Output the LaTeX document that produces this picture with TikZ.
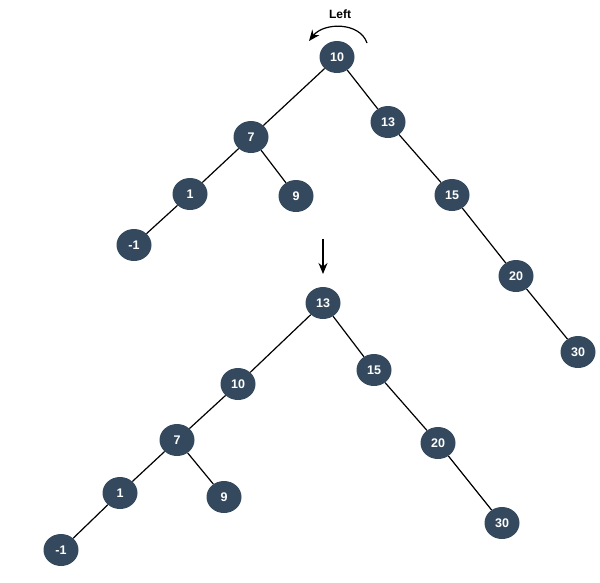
\documentclass[tikz,border=0pt]{standalone}
\usepackage{fontspec}
\setmainfont{Liberation Sans}
\usetikzlibrary{shapes.geometric,arrows.meta}
\definecolor{cc}{RGB}{52, 73, 94}

\begin{document}
\begin{tikzpicture}[x=1pt,y=1pt,
  vertex/.style={ellipse, minimum width=35pt, minimum height=32pt, inner sep=0pt, fill=cc, text=white, font=\fontsize{12.5}{12.5}\selectfont\bfseries},
  edge/.style={line width=1.2pt, color=black},
  turn/.style={line width=1.2pt, color=black, -{Stealth[length=11pt,width=9pt]}}]
\useasboundingbox (0,0) rectangle (600,-582);
% rotation mark
\node (lbl) [font=\fontsize{12}{12}\selectfont\bfseries] at (340.0pt, -14.0pt) {Left};
\coordinate (a1) at (367.0pt, -43.0pt);
\coordinate (a2) at (309.0pt, -41.0pt);
\coordinate (d1) at (323.0pt, -239.0pt);
\coordinate (d2) at (323.0pt, -274.0pt);
% tree before
\node (1) [vertex] at (337.0pt, -57.0pt)  {10};
\node (2) [vertex] at (251.0pt, -137.0pt)  {7};
\node (3) [vertex] at (388.0pt, -122.0pt)  {13};
\node (4) [vertex] at (190.0pt, -194.0pt)  {1};
\node (5) [vertex] at (296.0pt, -196.0pt)  {9};
\node (6) [vertex] at (452.0pt, -195.0pt)  {15};
\node (7) [vertex] at (134.0pt, -245.0pt)  {-1};
\node (8) [vertex] at (516.0pt, -276.0pt)  {20};
\node (9) [vertex] at (578.0pt, -352.0pt)  {30};
% tree after
\node (10) [vertex] at (323.0pt, -303.0pt)  {13};
\node (11) [vertex] at (238.0pt, -384.0pt)  {10};
\node (12) [vertex] at (374.0pt, -370.0pt)  {15};
\node (13) [vertex] at (177.0pt, -440.0pt)  {7};
\node (14) [vertex] at (438.0pt, -443.0pt)  {20};
\node (15) [vertex] at (120.0pt, -493.0pt)  {1};
\node (16) [vertex] at (224.0pt, -497.0pt)  {9};
\node (17) [vertex] at (502.0pt, -523.0pt)  {30};
\node (18) [vertex] at (61.0pt, -550.0pt)  {-1};
\draw [edge] (1) to  (2);
\draw [edge] (1) to  (3);
\draw [edge] (2) to  (4);
\draw [edge] (2) to  (5);
\draw [edge] (4) to  (7);
\draw [edge] (3) to  (6);
\draw [edge] (6) to  (8);
\draw [edge] (8) to  (9);
\draw [edge] (10) to  (11);
\draw [edge] (10) to  (12);
\draw [edge] (11) to  (13);
\draw [edge] (13) to  (15);
\draw [edge] (13) to  (16);
\draw [edge] (15) to  (18);
\draw [edge] (12) to  (14);
\draw [edge] (14) to  (17);
\draw [turn] (a1) .. controls (360.0pt, -22.0pt) and (324.0pt, -22.0pt) .. (a2);
\draw [turn] (d1) to  (d2);
\end{tikzpicture}
\end{document}
